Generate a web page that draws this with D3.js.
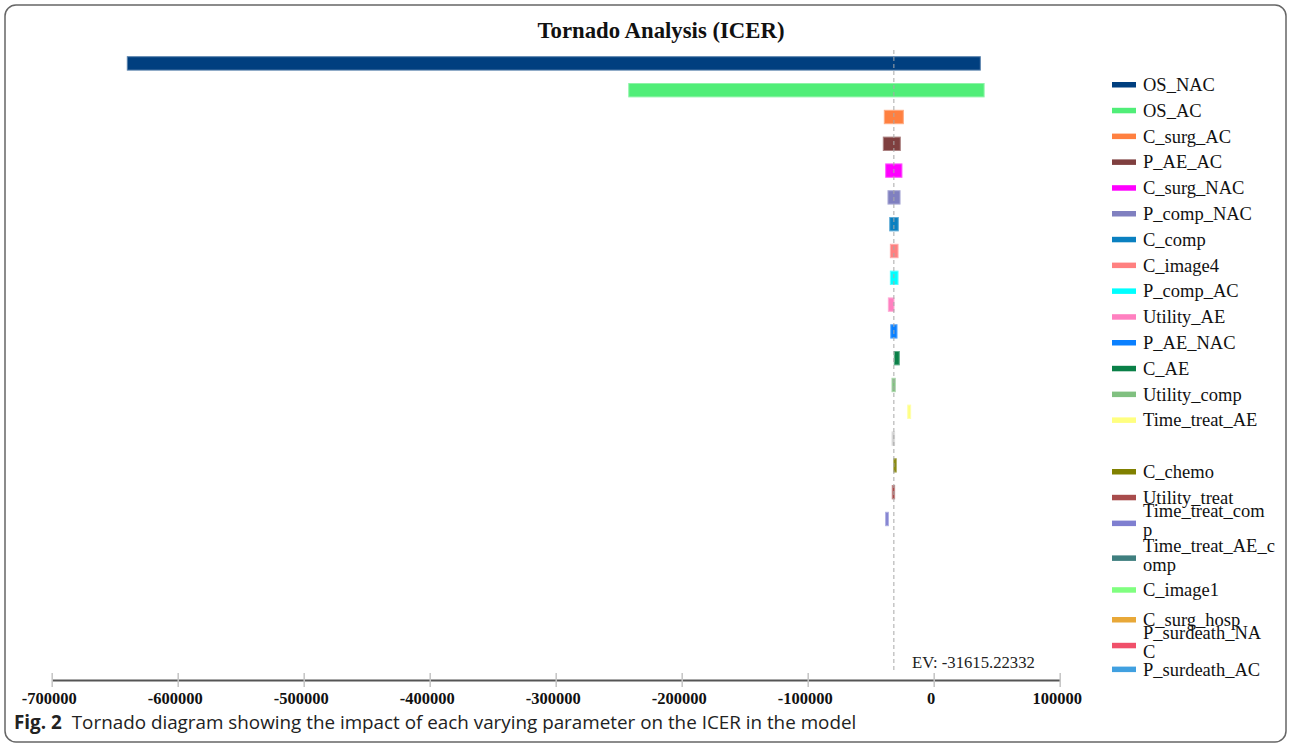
<!DOCTYPE html>
<html>
<head>
<meta charset="utf-8">
<script src="https://cdn.jsdelivr.net/npm/d3@7"></script>
<style>
  html, body { margin: 0; padding: 0; background: #fff; }
  svg { display: block; }
</style>
</head>
<body>
<svg id="chart" width="1290" height="743"></svg>
<script>
// ---------------- data ----------------
const params = ["OS_NAC","OS_AC","C_surg_AC","P_AE_AC","C_surg_NAC","P_comp_NAC","C_comp","C_image4",
  "P_comp_AC","Utility_AE","P_AE_NAC","C_AE","Utility_comp","Time_treat_AE","",
  "C_chemo","Utility_treat","Time_treat_comp","Time_treat_AE_comp","C_image1","C_surg_hosp",
  "P_surdeath_NAC","P_surdeath_AC"];
const legendLabels = ["OS_NAC","OS_AC","C_surg_AC","P_AE_AC","C_surg_NAC","P_comp_NAC","C_comp","C_image4",
  "P_comp_AC","Utility_AE","P_AE_NAC","C_AE","Utility_comp","Time_treat_AE","",
  "C_chemo","Utility_treat","Time_treat_com\np","Time_treat_AE_c\nomp","C_image1","C_surg_hosp",
  "P_surdeath_NA\nC","P_surdeath_AC"];
const lowValues = [-640000,-242000,-39200,-40000,-38100,-36300,-34900,-34400,
  -34400,-36000,-34100,-31300,-33100,-20600,-33100,
  -31700,-32900,-38100,-31615.22332,-31615.22332,-31615.22332,-31615.22332,-31615.22332];
const highValues = [37000,40000,-24100,-26500,-25200,-26700,-28100,-28300,
  -28300,-31500,-29100,-27300,-30500,-18300,-31000,
  -29700,-31000,-36000,-31615.22332,-31615.22332,-31615.22332,-31615.22332,-31615.22332];
const colors = ["#003f7f","#50ee78","#ff8040","#7f3f3f","#ff00ff","#8080c0","#0a80c0","#ff8080",
  "#00ffff","#ff80c0","#0a80ff","#0a8048","#80c080","#ffff80","#cfcfcf",
  "#808000","#a84c4c","#7f7fd0","#3f7f7f","#80ff80","#e8a838","#f0506a","#40a0e0"];
const xTicks = [-700000,-600000,-500000,-400000,-300000,-200000,-100000,0,100000];
const expectedValue = -31615.22332;
const titleText = "Tornado Analysis (ICER)";
const evText = "EV: -31615.22332";
const captionBold = "Fig. 2";
const captionText = "Tornado diagram showing the impact of each varying parameter on the ICER in the model";

// ---------------- drawing ----------------
const svg = d3.select("#chart");
const serif = "'Liberation Serif','Times New Roman',serif";

// frame
svg.append("rect").attr("x",5).attr("y",5).attr("width",1281).attr("height",737)
  .attr("rx",11).attr("fill","none").attr("stroke","#666").attr("stroke-width",1.5);

const x = d3.scaleLinear().domain([-700000, 100000]).range([51.7, 1059.7]);
const y = d3.scaleBand().domain(d3.range(params.length)).range([50, 666.4])
  .paddingInner(0.5).paddingOuter(0.25);

function fitWidth(sel, target, base) {
  const w = sel.node().getComputedTextLength();
  sel.attr("font-size", base * target / w);
}

// title
const title = svg.append("text").attr("x", 661).attr("y", 38).attr("text-anchor","middle")
  .attr("font-family", serif).attr("font-weight","bold").attr("font-size", 22)
  .attr("fill","#111").text(titleText);
fitWidth(title, 247, 22);

// bars
const bars = svg.append("g");
params.forEach((p, i) => {
  const lo = Math.min(lowValues[i], highValues[i]);
  const hi = Math.max(lowValues[i], highValues[i]);
  const w = x(hi) - x(lo);
  if (w <= 0) return;
  const c = colors[i];
  bars.append("rect")
    .attr("x", x(lo)).attr("y", y(i)).attr("width", w).attr("height", y.bandwidth())
    .attr("fill", c)
    .attr("stroke", d3.interpolateRgb(c, "#ffffff")(0.35)).attr("stroke-width", 1);
});

// EV line
svg.append("line").attr("x1", x(expectedValue)).attr("x2", x(expectedValue))
  .attr("y1", 50).attr("y2", 672)
  .attr("stroke", "#a8a8a8").attr("stroke-width", 1).attr("stroke-dasharray", "4,3");

// EV label
const ev = svg.append("text").attr("x", 912).attr("y", 668)
  .attr("font-family", serif).attr("font-size", 17).attr("fill", "#222").text(evText);
fitWidth(ev, 123, 17);

// axis
const axis = d3.axisBottom(x).tickValues(xTicks).tickFormat(d => String(d))
  .tickSizeInner(7).tickSizeOuter(0).tickPadding(0);
const gAxis = svg.append("g").attr("transform", "translate(0,680)").call(axis);
gAxis.select(".domain").attr("stroke", "#555").attr("stroke-width", 2);
gAxis.selectAll(".tick line").attr("y1", -7).attr("y2", 7).attr("stroke", "#c4c4c4").attr("stroke-width", 1.5);
gAxis.selectAll(".tick text").attr("y", 24).attr("dy", 0).attr("dx", -3)
  .attr("font-family", serif).attr("font-weight", "bold").attr("font-size", 16.5).attr("fill", "#111");

// legend
const lg = svg.append("g");
let ly = 84.5;
legendLabels.forEach((lab, i) => {
  const lines = lab.split("\n");
  if (lab !== "") {
    lg.append("rect").attr("x", 1112).attr("y", ly - 2.5).attr("width", 24).attr("height", 5.5)
      .attr("fill", colors[i]);
    const t = lg.append("text").attr("font-family", serif).attr("font-size", 18.5).attr("fill", "#111");
    if (lines.length === 1) {
      t.append("tspan").attr("x", 1143).attr("y", ly + 6.5).text(lines[0]);
    } else {
      t.append("tspan").attr("x", 1143).attr("y", ly - 6).text(lines[0]);
      t.append("tspan").attr("x", 1143).attr("y", ly + 13).text(lines[1]);
    }
  }
  ly += 25.8;
  if (i === 17) ly += 9;
  if (i === 18) ly += 6;
  if (i === 19) ly += 4;
  if (i === 21) ly -= 2;
});

// caption
const cap = svg.append("text").attr("x", 14).attr("y", 729)
  .attr("font-family", "'Open Sans','Noto Sans',sans-serif").attr("font-size", 17).attr("fill", "#222");
cap.append("tspan").attr("font-weight", "bold").text(captionBold);
cap.append("tspan").attr("dx", 10).text(captionText);
fitWidth(cap, 833, 17);
</script>
</body>
</html>
